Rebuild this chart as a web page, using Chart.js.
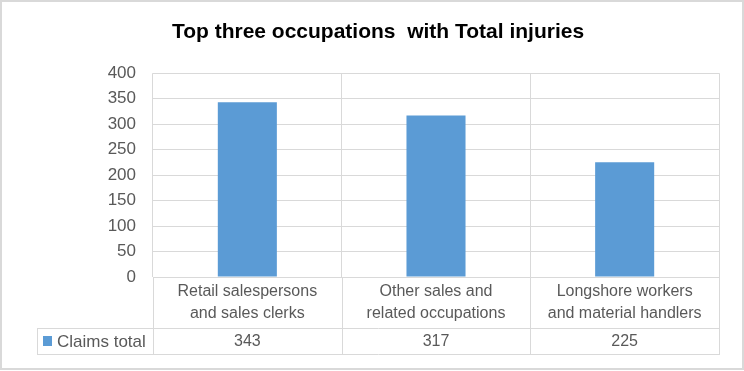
<!DOCTYPE html>
<html>
<head>
<meta charset="utf-8">
<script src="https://cdn.jsdelivr.net/npm/chart.js@4"></script>
<style>
  body { margin: 0; background: #fff; }
</style>
</head>
<body>
<canvas id="myChart" width="744" height="371"></canvas>
<script>
const categories = [
    ["Retail salespersons", "and sales clerks"],
    ["Other sales and", "related occupations"],
    ["Longshore workers", "and material handlers"],
];
const claimsTotal = [343, 317, 225];
const seriesName = "Claims total";
const chartTitle = "Top three occupations  with Total injuries";

const FONT = "'Liberation Sans', Arial, sans-serif";
const GRID = "#d9d9d9";
const TEXT = "#595959";
const BAR = "#5b9bd5";

// draws the excel style data table under the x axis + outer border
const dataTable = {
    id: "dataTable",
    afterDraw(chart) {
        const ctx = chart.ctx;
        const area = chart.chartArea;
        const x = chart.scales.x;
        const rowTop = area.bottom + 51;
        const rowBottom = rowTop + 26;
        const tableLeft = 37;

        ctx.save();
        ctx.strokeStyle = GRID;
        ctx.lineWidth = 1;
        ctx.beginPath();
        // vertical lines at category edges
        for (let i = 0; i <= claimsTotal.length; i++) {
            let px;
            if (i === 0) px = area.left;
            else if (i === claimsTotal.length) px = area.right;
            else px = (x.getPixelForTick(i - 1) + x.getPixelForTick(i)) / 2;
            px = Math.round(px) + 0.5;
            ctx.moveTo(px, area.bottom);
            ctx.lineTo(px, rowBottom);
        }
        ctx.moveTo(tableLeft + 0.5, rowTop);
        ctx.lineTo(tableLeft + 0.5, rowBottom);
        ctx.moveTo(tableLeft, rowTop + 0.5);
        ctx.lineTo(area.right + 1, rowTop + 0.5);
        ctx.moveTo(tableLeft, rowBottom + 0.5);
        ctx.lineTo(area.right + 1, rowBottom + 0.5);
        ctx.stroke();

        // values row
        const midY = (rowTop + rowBottom) / 2 + 1;
        ctx.font = "16px " + FONT;
        ctx.fillStyle = TEXT;
        ctx.textAlign = "center";
        ctx.textBaseline = "middle";
        claimsTotal.forEach((v, i) => {
            ctx.fillText(String(v), x.getPixelForTick(i), midY);
        });

        // legend key
        ctx.fillStyle = BAR;
        ctx.fillRect(43, midY - 6, 9, 10);
        ctx.fillStyle = TEXT;
        ctx.textAlign = "left";
        ctx.font = "17px " + FONT;
        ctx.fillText(seriesName, 57, midY);

        // chart border
        ctx.strokeStyle = GRID;
        ctx.lineWidth = 2;
        ctx.strokeRect(1, 1, chart.width - 2, chart.height - 3);
        ctx.restore();
    }
};

const ctx = document.getElementById("myChart").getContext("2d");
new Chart(ctx, {
    type: "bar",
    data: {
        labels: categories,
        datasets: [
            {
                label: seriesName,
                data: claimsTotal,
                backgroundColor: BAR,
                categoryPercentage: 1,
                barPercentage: 0.313,
            },
        ],
    },
    options: {
        responsive: false,
        animation: false,
        layout: { padding: { left: 37, right: 25, top: 0, bottom: 17 } },
        plugins: {
            legend: { display: false },
            tooltip: { enabled: false },
            title: {
                display: true,
                text: chartTitle,
                color: "#000",
                font: { family: FONT, size: 21, weight: "bold" },
                padding: { top: 20, bottom: 28 },
            },
        },
        scales: {
            x: {
                grid: { offset: true, color: GRID, drawTicks: false },
                border: { color: GRID },
                ticks: {
                    color: TEXT,
                    padding: 3,
                    maxRotation: 0,
                    autoSkip: false,
                    font: { family: FONT, size: 16, lineHeight: 1.4 },
                },
                afterFit(scale) { scale.height = 77; },
            },
            y: {
                min: 0,
                max: 400,
                grid: { color: GRID, drawTicks: false },
                border: { display: false },
                ticks: {
                    stepSize: 50,
                    color: TEXT,
                    padding: 17,
                    font: { family: FONT, size: 17 },
                },
                afterFit(scale) { scale.width = 116; },
            },
        },
    },
    plugins: [dataTable],
});
</script>
</body>
</html>
